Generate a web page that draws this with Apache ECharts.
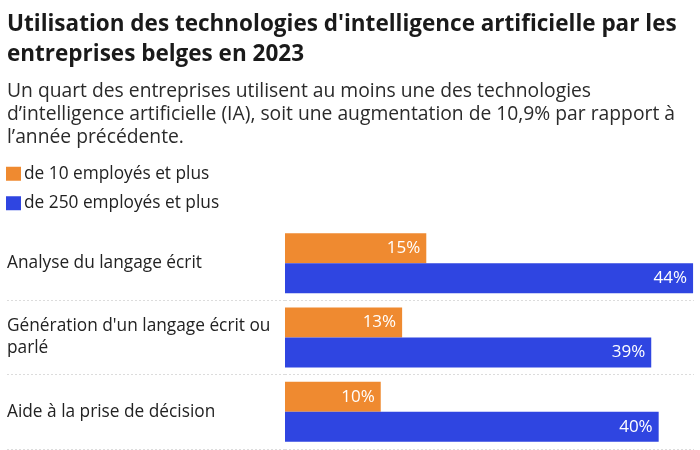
<!DOCTYPE html>
<html>
<head>
<meta charset="utf-8">
<script src="https://cdn.jsdelivr.net/npm/echarts@6/dist/echarts.min.js"></script>
<style>html,body{margin:0;padding:0;background:#fff;}#c{width:700px;height:450px;}</style>
</head>
<body>
<div id="c"></div>
<script>
const titleText = "Utilisation des technologies d'intelligence artificielle par les\nentreprises belges en 2023";
const subText = "Un quart des entreprises utilisent au moins une des technologies\nd\u2019intelligence artificielle (IA), soit une augmentation de 10,9% par rapport \u00e0\nl\u2019ann\u00e9e pr\u00e9c\u00e9dente.";
const categories = ["Analyse du langage \u00e9crit", "G\u00e9n\u00e9ration d'un langage \u00e9crit ou\nparl\u00e9", "Aide \u00e0 la prise de d\u00e9cision"];
const seriesNames = ["de 10 employ\u00e9s et plus", "de 250 employ\u00e9s et plus"];
const values10 = [15.2, 12.6, 10.3];
const values250 = [43.9, 39.4, 40.2];
const colors = ["#EF8A30", "#2F45E1"];

const FONT = "Open Sans";
const chart = echarts.init(document.getElementById('c'));
const sepStyle = { color: '#dcdcdc', type: [2, 2], width: 1 };
const skipFirst = function (idx) { return idx > 0; };

chart.setOption({
  backgroundColor: '#fff',
  animation: false,
  color: colors,
  title: {
    text: titleText,
    subtext: subText,
    left: 2,
    top: 5,
    itemGap: 10,
    textStyle: { fontFamily: FONT, fontSize: 22.5, fontWeight: 'bold', color: '#1a1a1a', lineHeight: 30 },
    subtextStyle: { fontFamily: FONT, fontSize: 19.3, color: '#2a2a2a', lineHeight: 23 }
  },
  legend: {
    orient: 'vertical',
    left: 1,
    top: 159,
    icon: 'rect',
    itemWidth: 15,
    itemHeight: 14,
    itemGap: 10,
    selectedMode: false,
    data: seriesNames,
    textStyle: { fontFamily: FONT, fontSize: 17.3, color: '#222', lineHeight: 19.5, padding: [0, 0, 0, -2] }
  },
  grid: { left: 285, top: 226, width: 409, height: 223, containLabel: false },
  xAxis: { type: 'value', min: 0, max: 44, show: false },
  yAxis: {
    type: 'category',
    inverse: true,
    data: categories,
    axisLine: { show: false },
    axisTick: { show: true, length: 278, interval: skipFirst, lineStyle: sepStyle },
    splitLine: { show: true, interval: skipFirst, lineStyle: sepStyle },
    axisLabel: { align: 'left', margin: 278, fontFamily: FONT, fontSize: 17.3, color: '#222', lineHeight: 22 }
  },
  series: [
    {
      name: seriesNames[0], type: 'bar', data: values10, barWidth: 30, barGap: '0%',
      label: { show: true, position: 'insideRight', distance: 6, color: '#fff', fontFamily: FONT, fontSize: 17,
        formatter: p => Math.round(p.value) + '%' }
    },
    {
      name: seriesNames[1], type: 'bar', data: values250, barWidth: 30, barGap: '0%',
      label: { show: true, position: 'insideRight', distance: 6, color: '#fff', fontFamily: FONT, fontSize: 17,
        formatter: p => Math.round(p.value) + '%' }
    }
  ]
});
</script>
</body>
</html>
